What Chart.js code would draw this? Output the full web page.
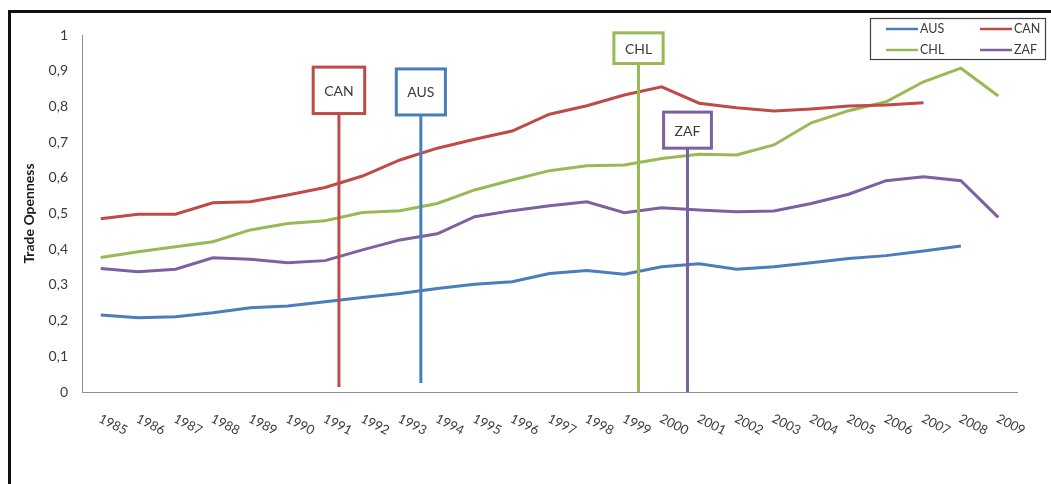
<!DOCTYPE html>
<html>
<head>
<meta charset="utf-8">
<script src="https://cdn.jsdelivr.net/npm/chart.js@4.4.1/dist/chart.umd.min.js"></script>
<style>
  html, body { margin: 0; padding: 0; background: #ffffff; }
  #wrap { position: relative; width: 1051px; height: 484px; overflow: hidden; }
  #frame { position: absolute; left: 8px; top: 10px; width: 1100px; height: 600px;
           border: 3px solid #111; box-sizing: border-box; }
  #c { position: absolute; left: 0; top: 0; }
</style>
</head>
<body>
<div id="wrap">
  <div id="frame"></div>
  <canvas id="c" width="1051" height="484"></canvas>
</div>
<script>
// Years on the category axis
const years = ['1985','1986','1987','1988','1989','1990','1991','1992','1993','1994','1995','1996','1997',
               '1998','1999','2000','2001','2002','2003','2004','2005','2006','2007','2008','2009'];

// Trade openness by country
const aus = [0.216,0.208,0.211,0.222,0.236,0.241,0.253,0.265,0.276,0.290,0.302,0.309,0.332,
             0.340,0.330,0.351,0.359,0.344,0.351,0.362,0.374,0.382,0.395,0.409,null];
const can = [0.485,0.498,0.498,0.530,0.533,0.552,0.573,0.605,0.650,0.683,0.708,0.731,0.778,
             0.802,0.832,0.855,0.809,0.796,0.787,0.793,0.801,0.804,0.810,null,null];
const chl = [0.377,0.393,0.407,0.421,0.454,0.472,0.480,0.503,0.508,0.528,0.566,0.594,0.620,
             0.634,0.636,0.654,0.666,0.664,0.692,0.754,0.788,0.813,0.869,0.907,0.829];
const zaf = [0.346,0.337,0.344,0.376,0.372,0.362,0.368,0.398,0.426,0.443,0.491,0.508,0.522,
             0.533,0.502,0.516,0.510,0.505,0.507,0.528,0.554,0.592,0.603,0.592,0.489];

// Value axis labels (decimal comma)
const yTickLabels = ['0','0,1','0,2','0,3','0,4','0,5','0,6','0,7','0,8','0,9','1'];

const COLORS = { AUS: '#4a7ebb', CAN: '#be4b48', CHL: '#98b954', ZAF: '#7d60a0' };
const FONT = 'Lato, "Open Sans", "Liberation Sans", sans-serif';
const TEXT = '#3a3a3a';

// Vertical markers: label box on a stem, placed along the year axis (category index)
const markers = [
  { label: 'CAN', at: 6.37,  boxTop: 0.910, boxBottom: 0.780, end: 0.014 },
  { label: 'AUS', at: 8.56,  boxTop: 0.905, boxBottom: 0.776, end: 0.025 },
  { label: 'CHL', at: 14.38, boxTop: 1.006, boxBottom: 0.920, end: 0.000 },
  { label: 'ZAF', at: 15.69, boxTop: 0.784, boxBottom: 0.683, end: 0.000 }
];

const markerPlugin = {
  id: 'markers',
  afterDatasetsDraw(chart) {
    const { ctx, scales: { x, y } } = chart;
    ctx.save();
    markers.forEach(m => {
      const col = COLORS[m.label];
      const px = x.getPixelForValue(m.at);
      const top = y.getPixelForValue(m.boxTop);
      const bot = y.getPixelForValue(m.boxBottom);
      const endY = y.getPixelForValue(m.end);
      ctx.font = '14px ' + FONT;
      const w = ctx.measureText(m.label).width + 22;
      ctx.strokeStyle = col;
      ctx.lineWidth = 3;
      ctx.beginPath();
      ctx.moveTo(px, bot);
      ctx.lineTo(px, endY);
      ctx.stroke();
      ctx.fillStyle = '#ffffff';
      ctx.fillRect(px - w / 2, top, w, bot - top);
      ctx.strokeRect(px - w / 2, top, w, bot - top);
      ctx.fillStyle = TEXT;
      ctx.textAlign = 'center';
      ctx.textBaseline = 'middle';
      ctx.fillText(m.label, px, (top + bot) / 2 + 1);
    });
    ctx.restore();
  }
};

// Year labels slanted downward to the right
const yearLabelPlugin = {
  id: 'yearLabels',
  afterDraw(chart) {
    const { ctx, scales: { x } } = chart;
    ctx.save();
    ctx.font = '13px ' + FONT;
    ctx.fillStyle = TEXT;
    ctx.textAlign = 'left';
    ctx.textBaseline = 'top';
    years.forEach((yr, i) => {
      const px = x.getPixelForValue(i);
      ctx.save();
      ctx.translate(px + 2, x.bottom + 20);
      ctx.rotate(27 * Math.PI / 180);
      ctx.fillText(yr, 0, 0);
      ctx.restore();
    });
    ctx.restore();
  }
};

// Boxed two-column legend in the upper right corner
const legendPlugin = {
  id: 'boxLegend',
  afterDraw(chart) {
    const { ctx } = chart;
    const box = { left: 870, top: 18, width: 175, height: 41 };
    ctx.save();
    ctx.strokeStyle = '#404040';
    ctx.lineWidth = 1.2;
    ctx.strokeRect(box.left + 0.5, box.top + 0.5, box.width, box.height);
    ctx.font = '12.5px ' + FONT;
    ctx.textBaseline = 'middle';
    ctx.textAlign = 'left';
    chart.data.datasets.forEach((ds, i) => {
      const col = i % 2, row = Math.floor(i / 2);
      const x0 = box.left + 16 + col * 94;
      const yy = box.top + 11 + row * 21;
      ctx.strokeStyle = ds.borderColor;
      ctx.lineWidth = 2.5;
      ctx.beginPath();
      ctx.moveTo(x0, yy);
      ctx.lineTo(x0 + 32, yy);
      ctx.stroke();
      ctx.fillStyle = TEXT;
      ctx.fillText(ds.label, x0 + 34, yy);
    });
    ctx.restore();
  }
};

const mk = (label, data) => ({
  label, data,
  borderColor: COLORS[label],
  backgroundColor: COLORS[label],
  borderWidth: 3,
  pointRadius: 0,
  pointHoverRadius: 0,
  tension: 0,
  spanGaps: false
});

new Chart(document.getElementById('c'), {
  type: 'line',
  data: {
    labels: years,
    datasets: [mk('AUS', aus), mk('CAN', can), mk('CHL', chl), mk('ZAF', zaf)]
  },
  options: {
    responsive: false,
    animation: false,
    events: [],
    layout: { padding: { top: 35, right: 34, bottom: 92, left: 0 } },
    plugins: { legend: { display: false }, tooltip: { enabled: false } },
    scales: {
      x: {
        offset: true,
        grid: { display: false, drawTicks: false },
        border: { display: true, color: '#8f8f8f', width: 1 },
        ticks: { display: false },
        afterFit(s) { s.height = 0; }
      },
      y: {
        min: 0, max: 1,
        grid: { display: false, drawTicks: false },
        border: { display: true, color: '#8f8f8f', width: 1 },
        ticks: {
          stepSize: 0.1,
          padding: 14,
          color: TEXT,
          font: { family: FONT, size: 14 },
          callback: (v, i) => yTickLabels[i]
        },
        title: {
          display: true,
          text: 'Trade Openness',
          color: '#1a1a1a',
          font: { family: FONT, size: 14, weight: 'bold' },
          padding: { top: 21, bottom: 0 }
        },
        afterFit(s) { s.width = 82; }
      }
    }
  },
  plugins: [markerPlugin, yearLabelPlugin, legendPlugin]
});
</script>
</body>
</html>
